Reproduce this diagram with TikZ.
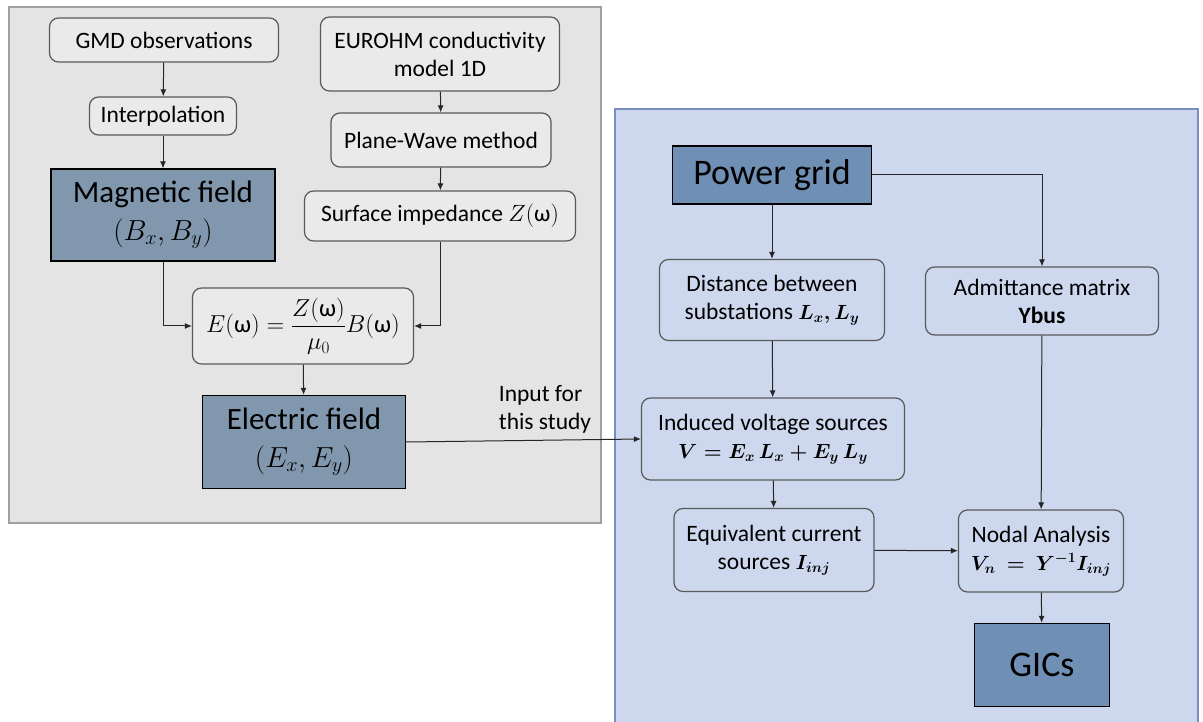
\RequirePackage{fix-cm}
\documentclass[tikz,border=0pt]{standalone}
\usepackage{fontspec}
\setmainfont{Carlito}
\usetikzlibrary{positioning}
\usetikzlibrary{arrows.meta}
\definecolor{panelgray}{RGB}{228,228,228}
\definecolor{panelgrayline}{RGB}{160,160,160}
\definecolor{boxgray}{RGB}{234,234,234}
\definecolor{panelblue}{RGB}{205,216,238}
\definecolor{panelblueline}{RGB}{122,142,190}
\definecolor{fieldbox}{RGB}{128,151,173}
\definecolor{gridbox}{RGB}{112,143,180}
\definecolor{boxline}{RGB}{89,89,89}
\newcommand{\boldeq}[1]{{\fontsize{20.5}{28}\selectfont\boldmath$#1$}}
\newcommand{\fieldeq}[1]{{\fontsize{29}{36}\selectfont$#1$}}

\begin{document}
\begin{tikzpicture}[x=1pt,y=-1pt,
  stepnode/.style={draw=boxline,line width=1.2pt,rounded corners=9pt,align=center,font=\fontsize{23.5}{28}\selectfont,inner sep=2pt},
  bigbox/.style={draw=black,line width=1.3pt,align=center,inner sep=2pt},
  link/.style={-{Latex[length=7pt,width=6pt]},line width=1pt,black!85}]
\useasboundingbox (0,0) rectangle (1203,722);
\draw[fill=panelgray,draw=panelgrayline,line width=1.5pt] (9,7) rectangle (601,523);
\draw[fill=panelblue,draw=panelblueline,line width=1.5pt] (615,109) rectangle (1198,740);

\node[stepnode,fill=boxgray,minimum width=229pt,minimum height=44pt] (gmd) at (164,40) {GMD observations};
\node[stepnode,fill=boxgray,minimum width=147pt,minimum height=38pt] (interp) at (163,116) {Interpolation};
\node[bigbox,fill=fieldbox,minimum width=224pt,minimum height=92pt,font=\fontsize{31}{38}\selectfont] (magfield) at (163,215) {Magnetic field\\\fieldeq{(B_x,B_y)}};
\node[stepnode,fill=boxgray,minimum width=239pt,minimum height=74pt] (eurohm) at (440,54) {EUROHM conductivity\\model 1D};
\node[stepnode,fill=boxgray,minimum width=220pt,minimum height=54pt] (planewave) at (441,140) {Plane-Wave method};
\node[stepnode,fill=boxgray,minimum width=271pt,minimum height=50pt] (surface) at (440,216) {Surface impedance $Z(\mbox{ω})$};
\node[stepnode,fill=boxgray,minimum width=221pt,minimum height=76pt,font=\fontsize{24.5}{28}\selectfont] (efield) at (303,326) {$E(\mbox{ω})=\displaystyle\frac{Z(\mbox{ω})}{\mu_0}B(\mbox{ω})$};
\node[bigbox,fill=fieldbox,minimum width=203pt,minimum height=93pt,font=\fontsize{31}{38}\selectfont] (elec) at (304,442) {Electric field\\\fieldeq{(E_x,E_y)}};
\node[align=left,font=\fontsize{23.5}{28}\selectfont] (studylabel) at (545,409) {Input for\\this study};

\node[bigbox,fill=gridbox,minimum width=199pt,minimum height=58pt,font=\fontsize{36}{40}\selectfont] (powergrid) at (772,175) {Power grid};
\node[stepnode,fill=panelblue,minimum width=225pt,minimum height=81pt] (distance) at (772,300) {Distance between\\substations \boldeq{L_x,L_y}};
\node[stepnode,fill=panelblue,minimum width=233pt,minimum height=68pt] (admittance) at (1042,301) {Admittance matrix\\\textbf{Ybus}};
\node[stepnode,fill=panelblue,minimum width=263pt,minimum height=82pt] (induced) at (773,439) {Induced voltage sources\\\boldeq{V=E_x\,L_x+E_y\,L_y}};
\node[stepnode,fill=panelblue,minimum width=200pt,minimum height=83pt] (equivalent) at (774,550) {Equivalent current\\sources \boldeq{I_{inj}}};
\node[stepnode,fill=panelblue,minimum width=165pt,minimum height=82pt] (nodal) at (1041,551) {Nodal Analysis\\\boldeq{V_n\ =\ Y^{-1}I_{inj}}};
\node[bigbox,fill=gridbox,minimum width=135pt,minimum height=83pt,font=\fontsize{36}{40}\selectfont] (gics) at (1042,665) {GICs};

\draw[link] (gmd) -- (interp);
\draw[link] (interp) -- (magfield);
\draw[link] (eurohm) -- (planewave);
\draw[link] (planewave) -- (surface);
\draw[link] (magfield.south) |- (efield.west);
\draw[link] (surface.south) |- (efield.east);
\draw[link] (efield) -- (elec);
\draw[link] (elec.east) -- (induced.west);
\draw[link] (powergrid) -- (distance);
\draw[link] (powergrid.east) -| (admittance.north);
\draw[link] (distance) -- (induced);
\draw[link] (induced) -- (equivalent);
\draw[link] (admittance) -- (nodal);
\draw[link] (equivalent) -- (nodal);
\draw[link] (nodal) -- (gics);
\end{tikzpicture}
\end{document}
